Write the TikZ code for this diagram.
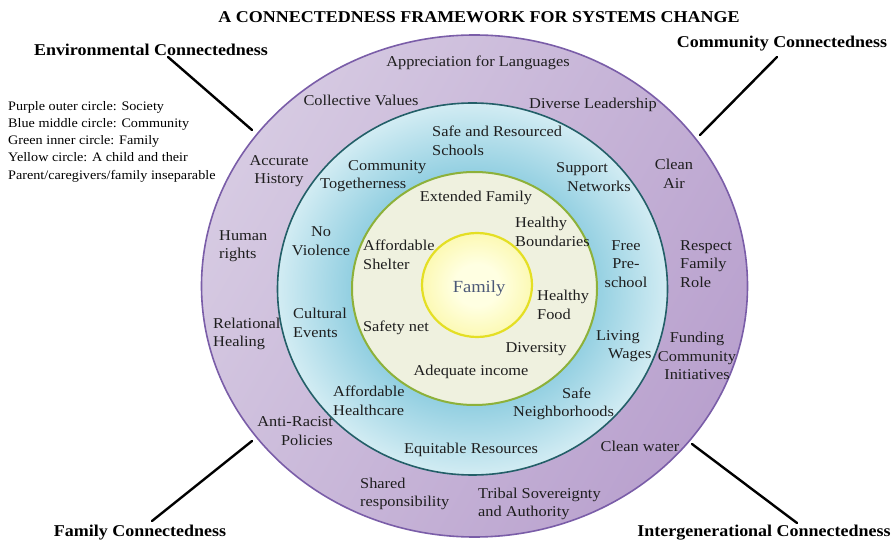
\documentclass[tikz,border=0pt]{standalone}
\usepackage{fontspec}
\setmainfont{Liberation Serif}[FakeStretch=1.09]

% ring colours
\definecolor{purpleLight}{HTML}{D6CAE2}
\definecolor{purpleDark}{HTML}{B9A1CE}
\definecolor{purpleEdge}{HTML}{7A5DA8}
\definecolor{blueIn}{HTML}{92CFE1}
\definecolor{blueOut}{HTML}{D2ECF3}
\definecolor{blueEdge}{HTML}{235F68}
\definecolor{greenFill}{HTML}{EFF1DF}
\definecolor{greenEdge}{HTML}{8DB13A}
\definecolor{yellowIn}{HTML}{FFFFE2}
\definecolor{yellowOut}{HTML}{FCF9B4}
\definecolor{yellowEdge}{HTML}{E4DF24}
\definecolor{labelText}{HTML}{1E1E1E}
\definecolor{familyText}{HTML}{4B5877}

% radial fills: the path's rim sits at 25bp
\pgfdeclareradialshading{bluering}{\pgfpoint{0bp}{0bp}}{%
  color(0bp)=(blueIn); color(15.5bp)=(blueIn); color(25bp)=(blueOut); color(50bp)=(blueOut)}
\pgfdeclareradialshading{yellowcore}{\pgfpoint{0bp}{0bp}}{%
  color(0bp)=(yellowIn); color(10bp)=(yellowIn); color(25bp)=(yellowOut); color(50bp)=(yellowOut)}

\begin{document}
\begin{tikzpicture}[x=1pt,y=-1pt,
  lbl/.style={inner sep=0pt, text=labelText, font=\fontsize{15}{18.5}\selectfont},
  lblL/.style={lbl, anchor=west, align=left},
  lblR/.style={lbl, anchor=east, align=right},
  lblC/.style={lbl, align=center},
  heading/.style={inner sep=0pt, font=\fontsize{16.5}{19}\selectfont\bfseries},
  legend/.style={inner sep=0pt, anchor=west, align=left, font=\fontsize{13}{17.3}\selectfont},
  pointer/.style={line width=2.4pt, line cap=round, black}
]
\useasboundingbox (0,0) rectangle (895,545);

% rings, outermost first
\shadedraw[top color=purpleLight, bottom color=purpleDark, shading angle=60,
  draw=purpleEdge, line width=1.6pt]
  (474.5,286) ellipse [x radius=273pt, y radius=251pt];
\shadedraw[shading=bluering, draw=blueEdge, line width=1.6pt]
  (472.5,289) ellipse [x radius=195pt, y radius=186pt];
\filldraw[fill=greenFill, draw=greenEdge, line width=2pt]
  (474.5,288.5) ellipse [x radius=122.5pt, y radius=116.5pt];
\shadedraw[shading=yellowcore, draw=yellowEdge, line width=2.2pt]
  (477,285) ellipse [x radius=55pt, y radius=52pt];

% title and corner headings
\node[heading] (title) at (479,17) {A CONNECTEDNESS FRAMEWORK FOR SYSTEMS CHANGE};
\node[heading] (env) at (151,50) {Environmental Connectedness};
\node[heading] (com) at (782,44) {Community Connectedness};
\node[heading] (fam) at (140,533) {Family Connectedness};
\node[heading] (gen) at (764,533) {Intergenerational Connectedness};

% legend
\node[legend] (key) at (8,141.5) {Purple outer circle: Society\\
  Blue middle circle: Community\\
  Green inner circle: Family\\
  Yellow circle: A child and their\\
  Parent/caregivers/family inseparable};

% outer (society) ring
\node[lblC] (p1) at (478,63) {Appreciation for Languages};
\node[lblC] (p2) at (361,100) {Collective Values};
\node[lblC] (p3) at (593,105) {Diverse Leadership};
\node[lblC] (p4) at (279,171) {Accurate\\History};
\node[lblC] (p5) at (674,174) {Clean\\Air};
\node[lblL] (p6) at (219,246) {Human\\rights};
\node[lblL] (p7) at (680,264) {Respect\\Family\\Role};
\node[lblL] (p8) at (213,334) {Relational\\Healing};
\node[lblC] (p9) at (697,356) {Funding\\Community\\Initiatives};
\node[lblR] (p10) at (333,431) {Anti-Racist\\Policies};
\node[lblC] (p11) at (640,446) {Clean water};
\node[lblL] (p12) at (360,494) {Shared\\responsibility};
\node[lblL] (p13) at (478,504) {Tribal Sovereignty\\and Authority};

% middle (community) ring
\node[lblL] (b1) at (432,141) {Safe and Resourced\\Schools};
\node[lblL] (b2) at (320,176) {\hspace*{28pt}Community\\Togetherness};
\node[lblL] (b3) at (556,177) {Support\\\hspace*{11pt}Networks};
\node[lblC] (b4) at (321,241) {No\\Violence};
\node[lblC] (b5) at (626,264) {Free\\Pre-\\school};
\node[lblL] (b6) at (293,323) {Cultural\\Events};
\node[lblL] (b7) at (596,346) {Living\\\hspace*{12pt}Wages};
\node[lblL] (b8) at (333,401) {Affordable\\Healthcare};
\node[lblL] (b9) at (513,404) {\hspace*{49pt}Safe\\Neighborhoods};
\node[lblC] (b10) at (471,450) {Equitable Resources};

% inner (family) ring
\node[lblC] (g1) at (476,198) {Extended Family};
\node[lblL] (g2) at (515,232) {Healthy\\Boundaries};
\node[lblL] (g3) at (363,255) {Affordable\\Shelter};
\node[lblL] (g4) at (537,305) {Healthy\\Food};
\node[lblC] (g5) at (396,328) {Safety net};
\node[lblC] (g6) at (536,349) {Diversity};
\node[lblC] (g7) at (471,372) {Adequate income};

% core
\node[inner sep=0pt, text=familyText, font=\fontsize{17}{20}\selectfont] (core) at (479,288) {Family};

% pointers from the headings to the outer ring
\coordinate (envA) at (168,57);  \coordinate (envB) at (252,130);
\coordinate (comA) at (777,57);  \coordinate (comB) at (700,135);
\coordinate (famA) at (152,521); \coordinate (famB) at (252,441);
\coordinate (genA) at (797,523); \coordinate (genB) at (692,444);
\draw[pointer] (envA) -- (envB);
\draw[pointer] (comA) -- (comB);
\draw[pointer] (famA) -- (famB);
\draw[pointer] (genA) -- (genB);
\end{tikzpicture}
\end{document}
